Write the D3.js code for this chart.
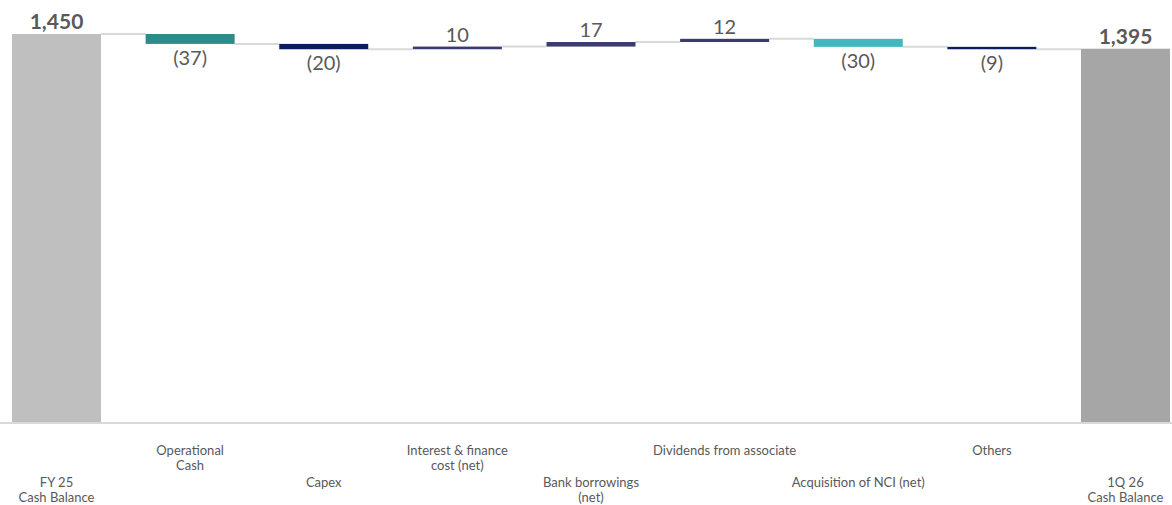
<!DOCTYPE html>
<html>
<head>
<meta charset="utf-8">
<script src="https://cdn.jsdelivr.net/npm/d3@7/dist/d3.min.js"></script>
<style>
  html, body { margin: 0; padding: 0; background: #fff; }
  svg { display: block; }
</style>
</head>
<body>
<svg id="chart" width="1172" height="505"></svg>
<script>
// ---- data ----
const categories = [
  ["FY 25", "Cash Balance"],
  ["Operational", "Cash"],
  ["Capex"],
  ["Interest & finance", "cost (net)"],
  ["Bank borrowings", "(net)"],
  ["Dividends from associate"],
  ["Acquisition of NCI (net)"],
  ["Others"],
  ["1Q 26", "Cash Balance"]
];
const values = [1450, -37, -20, 10, 17, 12, -30, -9, 1395];
const kinds = ["total", "delta", "delta", "delta", "delta", "delta", "delta", "delta", "total"];
const valueLabels = ["1,450", "(37)", "(20)", "10", "17", "12", "(30)", "(9)", "1,395"];

// ---- styles ----
const barColors = ["#bfbfbf", "#2e8b8b", "#0c1f5c", "#3b3a72", "#3b3a72", "#3b3a72", "#40b8bd", "#0c1f5c", "#a6a6a6"];
const font = "Lato, 'Open Sans', sans-serif";

const svg = d3.select("#chart");
const W = 1172, H = 505;

const x = d3.scaleBand()
  .domain(d3.range(categories.length))
  .range([12, 1170])
  .paddingInner(0.334)
  .paddingOuter(0);

const y = d3.scaleLinear().domain([0, 1450]).range([422, 34]);

// compute waterfall segments
let level = 0;
const segs = values.map((v, i) => {
  let lo, hi, after;
  if (kinds[i] === "total") { lo = 0; hi = v; after = v; }
  else { const start = level; after = level + v; lo = Math.min(start, after); hi = Math.max(start, after); }
  level = after;
  return { i, v, lo, hi, after };
});

// axis baseline
svg.append("line")
  .attr("x1", 0).attr("x2", W)
  .attr("y1", y(0) + 1).attr("y2", y(0) + 1)
  .attr("stroke", "#d9d9d9").attr("stroke-width", 2);

// connectors
segs.slice(0, -1).forEach((s, k) => {
  const x1 = x(k) + x.bandwidth();
  const x2 = x(k + 1);
  svg.append("line")
    .attr("x1", x1).attr("x2", x2)
    .attr("y1", y(s.after)).attr("y2", y(s.after))
    .attr("stroke", "#d9d9d9").attr("stroke-width", 2);
});

// bars
svg.selectAll("rect.bar").data(segs).enter().append("rect")
  .attr("class", "bar")
  .attr("x", d => x(d.i))
  .attr("width", x.bandwidth())
  .attr("y", d => y(d.hi))
  .attr("height", d => Math.max(2, y(d.lo) - y(d.hi)))
  .attr("fill", d => barColors[d.i]);

// value labels
svg.selectAll("text.val").data(segs).enter().append("text")
  .attr("class", "val")
  .attr("x", d => x(d.i) + x.bandwidth() / 2)
  .attr("y", d => d.v >= 0 ? y(d.hi) - 5 : y(d.lo) + 21)
  .attr("text-anchor", "middle")
  .attr("font-family", font)
  .attr("font-size", d => kinds[d.i] === "total" ? 21 : 20)
  .attr("font-weight", d => kinds[d.i] === "total" ? 700 : 400)
  .attr("fill", "#595959")
  .text(d => valueLabels[d.i]);

// category labels (staggered)
categories.forEach((lines, i) => {
  const baseY = i % 2 === 1 ? 455 : 487;
  const t = svg.append("text")
    .attr("text-anchor", "middle")
    .attr("font-family", font)
    .attr("font-size", 13)
    .attr("fill", "#595959");
  lines.forEach((ln, j) => {
    t.append("tspan")
      .attr("x", x(i) + x.bandwidth() / 2)
      .attr("y", baseY + j * 15)
      .text(ln);
  });
});
</script>
</body>
</html>
